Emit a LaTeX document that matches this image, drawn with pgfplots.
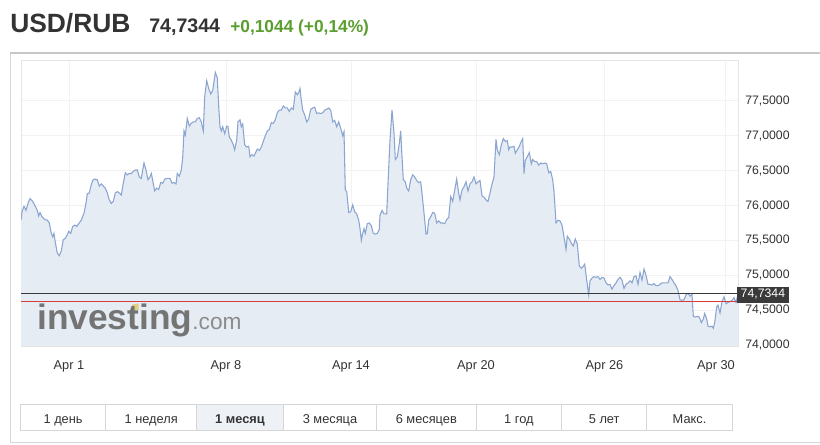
\documentclass[border=0pt]{standalone}
\usepackage{fontspec}
\setmainfont{Liberation Sans}
\usepackage{pgfplots}
\usepackage{pgfplotstable}
\pgfplotsset{compat=1.18}

\definecolor{txt}{HTML}{333333}
\definecolor{upgreen}{HTML}{5A9E2F}
\definecolor{areafill}{HTML}{E6ECF4}
\definecolor{arealine}{HTML}{8AA5D0}
\definecolor{lastline}{HTML}{3A3A3A}
\definecolor{prevclose}{RGB}{214,60,60}
\definecolor{frame}{HTML}{D6D6D6}
\definecolor{btnsel}{HTML}{EEF2F7}
\definecolor{wm}{HTML}{747474}
\definecolor{wmlight}{HTML}{8C8C8C}
\definecolor{wmyellow}{HTML}{E3CF7E}

% USD/RUB, April (x = sample position, y = rate)
\pgfplotstableread{
x y
21 75.79
22 75.91
24 75.99
26 75.93
28 76.03
30 76.10
32.7 76.06
35.3 75.99
37.3 75.93
38.7 75.85
40 75.90
42 75.84
44.7 75.80
47.3 75.79
49.3 75.75
51.3 75.60
52.7 75.55
54 75.60
55.3 75.47
57.3 75.32
59.3 75.28
61.3 75.35
63.3 75.51
65.3 75.53
67.3 75.58
68.7 75.63
70.7 75.60
72.7 75.70
74.7 75.72
76.7 75.70
78.7 75.74
81.3 75.79
84 75.89
86 76.03
87.3 76.17
89.3 76.18
90.7 76.27
92.7 76.36
94.7 76.38
97.3 76.37
99.3 76.28
101.3 76.31
103.3 76.28
105.3 76.25
107.3 76.18
109.3 76.08
111.3 76.03
113.3 76.06
115.3 76.18
117.3 76.20
119.3 76.18
121.3 76.15
123.3 76.32
125.3 76.47
127.3 76.44
129.3 76.46
131.3 76.46
133.3 76.49
135.3 76.51
137.3 76.51
139.3 76.41
141.3 76.39
142.7 76.51
144 76.61
146 76.51
148 76.37
150 76.41
151.3 76.46
152.7 76.36
154.7 76.21
156.7 76.25
158.7 76.23
160.7 76.33
162.7 76.32
164.7 76.38
167.3 76.39
170 76.39
172 76.32
174 76.33
176 76.31
177.3 76.46
179.3 76.42
181.3 76.51
182.7 76.69
184 77.07
185.3 77.01
187.3 77.25
189.3 77.14
191.3 77.18
193.3 77.20
195.3 77.20
197.3 77.25
199.3 77.26
201.3 77.20
203.3 77.07
204.7 77.56
206.7 77.79
208.7 77.68
210.7 77.60
212.7 77.65
215.3 77.91
217.3 77.83
218.7 77.42
220 77.13
221.3 77.07
222.7 77.13
224.7 77.03
226.7 77.14
228 77.13
229.3 76.98
231.3 76.94
233.3 76.87
234.7 76.80
236.7 76.94
238 77.20
240 77.23
241.3 77.13
242.7 77.17
244.7 76.87
246.7 76.84
248.7 76.85
250 76.70
252 76.73
254 76.71
256 76.77
257.3 76.81
259.3 76.79
261.3 76.84
263.3 76.92
265.3 77.00
267.3 77.07
269.3 77.09
271.3 77.19
273.3 77.18
275.3 77.23
277.3 77.33
279.3 77.37
281.3 77.37
283.3 77.43
285.3 77.40
287.3 77.40
289.3 77.35
291.3 77.40
293.3 77.38
295.3 77.63
297.3 77.59
298.7 77.62
300 77.68
301.3 77.51
302.7 77.37
304.7 77.30
306.7 77.20
308.7 77.24
310.7 77.38
312.7 77.40
314.7 77.41
316.7 77.32
318.7 77.33
320.7 77.32
322.7 77.33
324.7 77.37
326.7 77.38
328.7 77.40
330.7 77.37
332.7 77.20
334.7 77.22
336.7 77.13
338.7 77.20
340.7 77.11
342.7 77.00
344 77.06
345.3 76.22
346.7 76.20
348.7 75.90
350.7 75.91
352.7 76.01
354.7 75.91
356.7 75.88
358.7 75.79
360 75.67
361.3 75.50
362.7 75.60
364 75.67
365.3 75.60
367.3 75.74
369.3 75.75
371.3 75.71
373.3 75.60
375.3 75.59
377.3 75.60
379.3 75.66
380 75.86
382 75.93
384 75.88
386.7 75.88
388 76.32
390 76.94
392 77.37
394 77.04
395.3 76.66
397.3 76.70
399.3 76.89
400.7 77.07
402 76.70
403.3 76.37
405.3 76.34
406.7 76.25
408.7 76.21
410.7 76.37
412.7 76.44
414.7 76.41
416.7 76.36
418.7 76.33
420.7 76.34
422.7 76.08
424.7 75.79
426 75.59
427.3 75.60
428.7 75.79
430.7 75.84
432.7 75.90
434.7 75.89
436.7 75.75
438.7 75.78
440.7 75.75
442.7 75.75
444.7 75.74
446.7 75.80
448.7 75.83
450.7 76.13
452.7 76.06
454.7 76.22
456.7 76.38
458.7 76.18
460 76.08
462 76.22
464 76.27
466 76.34
468 76.21
470 76.31
472 76.34
474 76.41
476 76.31
478 76.34
480 76.36
482 76.14
484 76.12
486 76.08
488 76.06
490 76.18
492 76.31
494 76.41
496 76.95
497.3 76.80
499.3 76.73
501.3 76.87
503.3 76.96
505.3 76.92
507.3 76.93
508.7 76.80
510 76.84
512 76.84
514 76.85
515.3 76.75
517.3 76.80
519.3 76.85
521.3 76.92
522.7 76.96
524 76.46
525.3 76.65
527.3 76.70
529.3 76.76
531.3 76.60
532.7 76.66
534.7 76.63
536.7 76.63
538.7 76.58
540.7 76.61
542.7 76.60
544.7 76.61
546.7 76.60
548.7 76.47
550.7 76.49
552.7 76.37
554 76.20
556 75.75
558 75.79
560 75.78
562 75.72
564 75.55
566 75.37
567.3 75.56
569.3 75.52
571.3 75.46
573.3 75.42
575.3 75.52
577.3 75.45
579.3 75.13
581.3 75.10
583.3 75.13
584.7 75.16
586.7 74.93
588.7 74.72
590 74.92
592 74.96
594 74.98
596 74.97
598 74.98
600 74.94
602 74.97
604 74.96
606 74.89
608 74.86
610 74.87
612 74.80
614 74.85
616 74.89
618 74.94
620 74.97
622 74.93
624 74.81
626 74.87
628 74.89
630 74.92
632 74.89
634 74.98
636 74.99
638 74.87
640 75.04
642 74.93
644 75.09
646 75.00
648 74.87
650 74.87
652 74.86
654 74.88
656 74.85
658 74.85
660 74.87
662 74.89
664 74.89
666 74.89
668 74.89
670 74.98
672 74.94
674 74.89
676 74.85
678 74.78
680 74.65
682 74.64
684 74.65
686 74.72
688 74.74
690 74.70
692 74.73
693.3 74.41
695.3 74.40
697.3 74.41
699.3 74.40
701.3 74.32
703.3 74.37
704.7 74.45
706.7 74.37
708 74.27
710 74.26
712 74.27
713.3 74.24
714.7 74.32
716.7 74.55
718 74.57
720 74.46
722 74.62
724 74.69
726 74.59
728 74.61
730 74.62
732 74.64
734 74.68
736 74.61
738 74.73
}\usdrub

\begin{document}
\begin{tikzpicture}[x=0.75pt,y=-0.75pt]
\useasboundingbox (0,0) rectangle (820,445);
\fill[white] (0,0) rectangle (820,445);

% header
\node[anchor=base west, inner sep=0pt, text=txt, font=\fontsize{19.8}{22}\selectfont\bfseries] at (10,32.5) {USD/RUB};
\node[anchor=base west, inner sep=0pt, text=txt, font=\fontsize{14.7}{16}\selectfont\bfseries] at (149,32.5) {74,7344};
\node[anchor=base west, inner sep=0pt, text=upgreen, font=\fontsize{13}{15}\selectfont\bfseries] at (230,32.5) {+0,1044 (+0,14\%)};

% panel frame
\draw[frame, line width=0.75pt] (10.5,53) -- (10.5,442.5) -- (820,442.5);
\draw[black!22, line width=1.2pt] (10,53) -- (820,53);

\begin{axis}[
  at={(15.75pt,-259.5pt)}, anchor=south west,
  scale only axis,
  width=537.75pt, height=214.5pt,
  xmin=21, xmax=738,
  ymin=73.985, ymax=78.088,
  axis line style={black!10},
  major tick length=0pt,
  tick style={draw=none},
  grid=major,
  grid style={black!5, line width=0.75pt},
  /pgf/number format/assume math mode=true,
  xtick={69,226,351,476,604.5},
  xticklabels={Apr 1,Apr 8,Apr 14,Apr 20,Apr 26},
  extra x ticks={725},
  extra x tick labels={Apr 30},
  extra x tick style={grid=major, xticklabel style={xshift=-6.75pt}},
  xticklabel style={anchor=north, inner sep=0pt, yshift=-10.5pt, text=txt, font=\fontsize{9.6}{11}\selectfont},
  ytick={74,74.5,75,75.5,76,76.5,77,77.5},
  yticklabel pos=right,
  yticklabel style={anchor=west, inner sep=0pt, xshift=5.25pt, text=txt, font=\fontsize{9.2}{11}\selectfont,
    /pgf/number format/.cd, fixed, fixed zerofill, precision=4, use comma, 1000 sep={}},
]
\addplot[draw=none, fill=areafill] table {\usdrub} \closedcycle;
\addplot[draw=arealine, line width=0.8pt] table {\usdrub};
\addplot[draw=prevclose, line width=1pt] coordinates {(21,74.62) (738,74.62)};
\addplot[draw=lastline, line width=1.1pt] coordinates {(21,74.7344) (738,74.7344)};
\end{axis}

% watermark
\fill[wmyellow] (131,311) -- (132.5,304.5) -- (138.5,303.5) -- (138.5,310) -- cycle;
\node[anchor=base west, inner sep=0pt, text=wm, font=\fontsize{26.5}{27}\selectfont\bfseries] at (37,329) {investing\textcolor{wmlight}{\mdseries\fontsize{17}{17}\selectfont.com}};

% last price tag
\node[anchor=west, fill=lastline, text=white, inner xsep=2.6pt, inner ysep=0pt, minimum height=12pt,
  font=\fontsize{9.2}{11}\selectfont] at (737,294.5) {74,7344};

% period buttons
\draw[frame, fill=white, line width=0.75pt] (20.5,404.5) rectangle (732.5,430.5);
\fill[btnsel] (197,405) rectangle (283,430);
\foreach \d in {105.7,196.7,283.3,376.7,476,561.7,646.7}
  \draw[frame, line width=0.75pt] (\d,404.5) -- (\d,430.5);
\begin{scope}[every node/.style={anchor=base, inner sep=0pt, text=txt, font=\fontsize{9.6}{11}\selectfont}]
\node at (63.1,423) {1 день};
\node at (151.2,423) {1 неделя};
\node[font=\fontsize{9.6}{11}\selectfont\bfseries] at (240,423) {1 месяц};
\node at (330,423) {3 месяца};
\node at (426.3,423) {6 месяцев};
\node at (518.9,423) {1 год};
\node at (604.2,423) {5 лет};
\node at (689.5,423) {Макс.};
\end{scope}
\end{tikzpicture}
\end{document}
